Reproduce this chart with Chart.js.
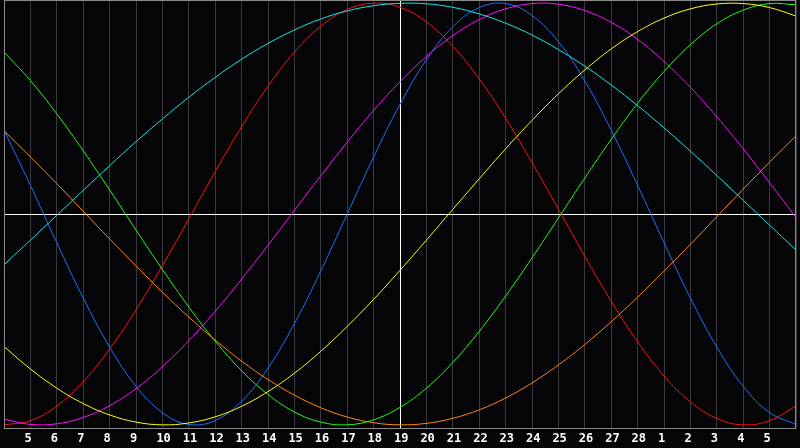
<!DOCTYPE html>
<html>
<head>
<meta charset="utf-8">
<script src="https://cdn.jsdelivr.net/npm/chart.js@4/dist/chart.umd.min.js"></script>
<style>
  html, body { margin: 0; padding: 0; background: #050508; }
  #wrap { width: 800px; height: 448px; }
</style>
</head>
<body>
<div id="wrap"><canvas id="c" width="800" height="448"></canvas></div>
<script>
// Day labels (Feb 4 .. Mar 6); today = index 15 (19)
const days = ['4','5','6','7','8','9','10','11','12','13','14','15','16','17','18','19','20','21','22','23','24','25','26','27','28','1','2','3','4','5','6'];
const todayIndex = 15;

const redSeries = [-1.000,-0.980,-0.911,-0.795,-0.641,-0.454,-0.244,-0.023,0.201,0.414,0.606,0.768,0.891,0.970,1.000,0.980,0.911,0.795,0.641,0.454,0.244,0.023,-0.201,-0.414,-0.606,-0.768,-0.891,-0.970,-1.000,-0.980,-0.911];
const blueSeries = [0.398,0.136,-0.136,-0.398,-0.631,-0.817,-0.942,-0.998,-0.979,-0.888,-0.731,-0.520,-0.270,0.000,0.270,0.520,0.731,0.888,0.979,0.998,0.942,0.817,0.631,0.398,0.136,-0.136,-0.398,-0.631,-0.817,-0.942,-0.998];
const greenSeries = [0.768,0.633,0.475,0.300,0.114,-0.076,-0.263,-0.441,-0.603,-0.743,-0.856,-0.939,-0.987,-1.000,-0.976,-0.917,-0.826,-0.704,-0.557,-0.389,-0.208,-0.019,0.171,0.354,0.525,0.676,0.803,0.902,0.967,0.998,0.992];
const magentaSeries = [-0.973,-0.998,-0.995,-0.965,-0.909,-0.828,-0.724,-0.601,-0.461,-0.309,-0.148,0.017,0.181,0.340,0.491,0.627,0.747,0.846,0.922,0.973,0.998,0.995,0.965,0.909,0.828,0.724,0.601,0.461,0.309,0.148,-0.017];
const yellowSeries = [-0.629,-0.735,-0.826,-0.899,-0.953,-0.987,-1.000,-0.991,-0.962,-0.912,-0.842,-0.755,-0.651,-0.533,-0.405,-0.267,-0.124,0.022,0.167,0.309,0.444,0.570,0.683,0.783,0.865,0.929,0.973,0.996,0.998,0.979,0.939];
const cyanSeries = [-0.241,-0.124,-0.006,0.112,0.229,0.343,0.451,0.554,0.648,0.734,0.809,0.873,0.925,0.963,0.988,0.999,0.997,0.980,0.949,0.905,0.849,0.780,0.701,0.612,0.514,0.409,0.298,0.183,0.065,-0.053,-0.171];
const orangeSeries = [0.395,0.271,0.144,0.013,-0.118,-0.246,-0.371,-0.489,-0.598,-0.698,-0.785,-0.859,-0.919,-0.963,-0.990,-1.000,-0.993,-0.969,-0.929,-0.873,-0.801,-0.716,-0.619,-0.511,-0.395,-0.271,-0.144,-0.013,0.118,0.246,0.371];

function series(arr, color) {
  return {
    data: arr.map((v, i) => ({ x: i, y: v })),
    borderColor: color,
    borderWidth: 1,
    pointRadius: 0,
    tension: 0.4,
    fill: false
  };
}

const framePlugin = {
  id: 'frame',
  afterDatasetsDraw(chart) {
    const { ctx, chartArea: a } = chart;
    ctx.save();
    ctx.strokeStyle = '#8a8a8a';
    ctx.lineWidth = 1;
    ctx.strokeRect(a.left + 0.5, a.top + 0.5, a.right - a.left - 1, a.bottom - a.top);
    ctx.restore();
  }
};

new Chart(document.getElementById('c'), {
  type: 'line',
  data: {
    datasets: [
      series(orangeSeries, '#ff8a10'),
      series(cyanSeries, '#10e8e8'),
      series(yellowSeries, '#ffff10'),
      series(magentaSeries, '#ff10ff'),
      series(greenSeries, '#20ff10'),
      series(blueSeries, '#1e70ff'),
      series(redSeries, '#ff1010')
    ]
  },
  plugins: [framePlugin],
  options: {
    responsive: false,
    animation: false,
    layout: { padding: 0 },
    plugins: { legend: { display: false }, tooltip: { enabled: false } },
    scales: {
      x: {
        type: 'linear',
        min: 0,
        max: days.length - 1,
        afterFit(s) { s.height = 20; },
        border: { display: false },
        grid: {
          drawTicks: false,
          lineWidth: 1,
          color: (ctx) => ctx.tick && ctx.tick.value === todayIndex ? '#ffffff' : '#3a3a3e'
        },
        ticks: {
          stepSize: 1,
          autoSkip: false,
          maxRotation: 0,
          align: 'start',
          labelOffset: -6,
          padding: 4,
          color: '#ffffff',
          font: { family: 'DejaVu Sans Mono', size: 12, weight: 'bold' },
          callback: (v) => (v >= 1 && v <= days.length - 2) ? days[v] : ''
        }
      },
      y: {
        type: 'linear',
        min: -1.015,
        max: 1.015,
        afterFit(s) { s.width = 0; },
        border: { display: false },
        grid: {
          drawTicks: false,
          color: (ctx) => ctx.tick && ctx.tick.value === 0 ? '#ffffff' : 'rgba(0,0,0,0)'
        },
        ticks: { display: false, stepSize: 1 }
      }
    }
  }
});
</script>
</body>
</html>
